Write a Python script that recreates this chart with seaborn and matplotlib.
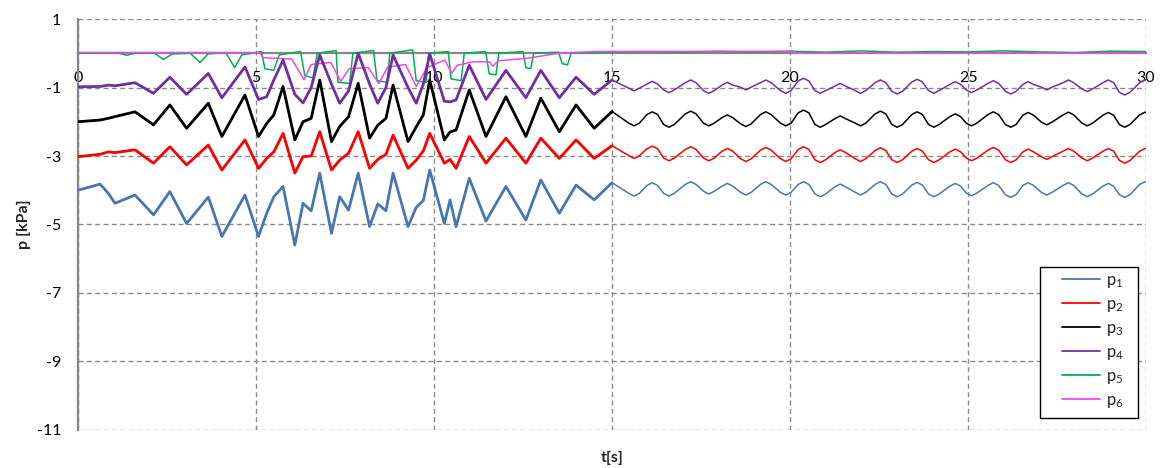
import numpy as np
import pandas as pd
import matplotlib
matplotlib.use('Agg')
import matplotlib.pyplot as plt
from matplotlib.patches import Rectangle
import seaborn as sns

# shared time grid (s) for p1..p4
t_main = [0.0, 0.62, 0.85, 1.04, 1.6, 2.12, 2.58, 3.05, 3.66, 4.04, 4.69, 5.07,
          5.3, 5.5, 5.76, 6.09, 6.32, 6.55, 6.79, 7.12, 7.35, 7.6, 7.87, 8.19,
          8.42, 8.65, 8.85, 9.27, 9.5, 9.7, 9.88, 10.29, 10.45, 10.62, 10.99, 11.46,
          12.02, 12.58, 13.0, 13.52, 13.99, 14.5,
          15.0, 15.47, 15.62, 15.77, 15.98, 16.13, 16.28, 16.45, 16.6, 16.75,
          17.06, 17.21, 17.36, 17.57, 17.72, 17.87, 18.09, 18.24, 18.39, 18.61,
          18.76, 18.91, 19.17, 19.32, 19.47, 19.73, 19.88, 20.03, 20.23, 20.38,
          20.53, 20.70, 20.85, 21.0, 21.26, 21.41, 21.56, 21.83, 21.98, 22.13,
          22.39, 22.54, 22.69, 22.86, 23.01, 23.16, 23.42, 23.57, 23.72, 23.89,
          24.04, 24.19, 24.49, 24.64, 24.79, 24.95, 25.1, 25.25, 25.56, 25.71,
          25.86, 26.05, 26.2, 26.35, 26.54, 26.69, 26.84, 27.06, 27.21, 27.36,
          27.67, 27.82, 27.97, 28.2, 28.35, 28.5, 28.79, 28.94, 29.09, 29.25,
          29.4, 29.55, 29.82, 29.97, 30.0]

p1 = [-4.00, -3.82, -4.09, -4.38, -4.14, -4.72, -4.04, -4.97, -4.20, -5.35, -4.14, -5.35,
      -4.67, -4.19, -3.89, -5.60, -4.38, -4.60, -3.50, -5.26, -4.19, -4.58, -3.50, -5.06,
      -4.40, -4.60, -3.50, -5.06, -4.50, -4.30, -3.41, -4.97, -4.28, -5.06, -3.65, -4.90,
      -3.89, -4.87, -3.70, -4.67, -3.85, -4.28,
      -3.78, -4.09, -4.17, -4.09, -3.86, -3.78, -3.86, -4.09, -4.17, -4.09,
      -3.83, -3.75, -3.83, -4.03, -4.11, -4.03, -3.88, -3.80, -3.88, -4.06,
      -4.14, -4.06, -3.83, -3.75, -3.83, -4.06, -4.14, -4.06, -3.83, -3.75,
      -3.83, -4.11, -4.19, -4.11, -3.90, -3.82, -3.90, -4.06, -4.14, -4.06,
      -3.83, -3.75, -3.83, -4.11, -4.19, -4.11, -3.85, -3.77, -3.85, -4.11,
      -4.19, -4.11, -3.88, -3.80, -3.88, -4.08, -4.16, -4.08, -3.86, -3.78,
      -3.86, -4.13, -4.21, -4.13, -3.86, -3.78, -3.86, -4.06, -4.14, -4.06,
      -3.86, -3.78, -3.86, -4.11, -4.19, -4.11, -3.88, -3.80, -3.88, -4.13,
      -4.21, -4.13, -3.83, -3.75, -3.76]

p2 = [-3.02, -2.95, -2.88, -2.90, -2.82, -3.21, -2.73, -3.26, -2.68, -3.41, -2.53, -3.36,
      -3.07, -2.88, -2.34, -3.50, -3.02, -3.00, -2.29, -3.41, -3.12, -2.92, -2.29, -3.36,
      -3.10, -2.95, -2.39, -3.36, -3.12, -2.85, -2.34, -3.21, -3.10, -3.36, -2.43, -3.21,
      -2.48, -3.21, -2.48, -3.07, -2.53, -3.07,
      -2.70, -2.99, -3.07, -2.99, -2.79, -2.71, -2.79, -3.06, -3.14, -3.06,
      -2.81, -2.73, -2.81, -3.06, -3.14, -3.06, -2.86, -2.78, -2.86, -3.08,
      -3.16, -3.08, -2.83, -2.75, -2.83, -3.08, -3.16, -3.08, -2.81, -2.73,
      -2.81, -3.11, -3.19, -3.11, -2.90, -2.82, -2.90, -3.08, -3.16, -3.08,
      -2.84, -2.76, -2.84, -3.11, -3.19, -3.11, -2.86, -2.78, -2.86, -3.11,
      -3.19, -3.11, -2.88, -2.80, -2.88, -3.06, -3.14, -3.06, -2.83, -2.75,
      -2.83, -3.11, -3.19, -3.11, -2.88, -2.80, -2.88, -3.02, -3.10, -3.02,
      -2.86, -2.78, -2.86, -3.06, -3.14, -3.06, -2.86, -2.78, -2.86, -3.13,
      -3.21, -3.13, -2.86, -2.78, -2.79]

p3 = [-2.00, -1.95, -1.90, -1.85, -1.71, -2.09, -1.51, -2.19, -1.46, -2.43, -1.22, -2.43,
      -2.05, -1.80, -0.97, -2.53, -2.00, -1.90, -0.78, -2.58, -2.14, -1.85, -0.88, -2.48,
      -2.10, -1.90, -0.93, -2.58, -2.15, -1.80, -0.78, -2.53, -2.30, -2.24, -1.07, -2.43,
      -1.27, -2.43, -1.31, -2.29, -1.51, -2.19,
      -1.70, -2.04, -2.12, -2.04, -1.79, -1.71, -1.79, -2.08, -2.16, -2.08,
      -1.77, -1.69, -1.77, -2.04, -2.12, -2.04, -1.88, -1.80, -1.88, -2.06,
      -2.14, -2.06, -1.79, -1.71, -1.79, -2.04, -2.12, -2.04, -1.74, -1.66,
      -1.74, -2.08, -2.16, -2.08, -1.91, -1.83, -1.91, -2.04, -2.12, -2.04,
      -1.77, -1.69, -1.77, -2.08, -2.16, -2.08, -1.79, -1.71, -1.79, -2.08,
      -2.16, -2.08, -1.85, -1.77, -1.85, -2.04, -2.12, -2.04, -1.79, -1.71,
      -1.79, -2.08, -2.16, -2.08, -1.81, -1.73, -1.81, -2.01, -2.09, -2.01,
      -1.80, -1.72, -1.80, -2.04, -2.12, -2.04, -1.81, -1.73, -1.81, -2.08,
      -2.16, -2.08, -1.80, -1.72, -1.73]

p4 = [-0.98, -0.97, -0.93, -0.95, -0.86, -1.17, -0.70, -1.20, -0.59, -1.30, -0.40, -1.35,
      -1.27, -0.78, -0.20, -1.20, -1.45, -1.00, -0.05, -0.90, -1.46, -1.10, 0.00, -0.90,
      -1.46, -1.00, -0.05, -1.00, -1.46, -0.90, -0.02, -1.40, -1.42, -1.36, -0.35, -1.35,
      -0.50, -1.30, -0.50, -1.30, -0.70, -1.20,
      -0.78, -1.02, -1.10, -1.02, -0.90, -0.82, -0.90, -1.07, -1.15, -1.07,
      -0.86, -0.78, -0.86, -1.09, -1.17, -1.09, -0.93, -0.85, -0.93, -0.99,
      -1.07, -0.99, -0.86, -0.78, -0.86, -1.09, -1.17, -1.09, -0.81, -0.73,
      -0.81, -1.09, -1.17, -1.09, -0.96, -0.88, -0.96, -1.09, -1.17, -1.09,
      -0.86, -0.78, -0.86, -1.11, -1.19, -1.11, -0.84, -0.76, -0.84, -1.09,
      -1.17, -1.09, -0.91, -0.83, -0.91, -1.07, -1.15, -1.07, -0.88, -0.80,
      -0.88, -1.11, -1.19, -1.11, -0.91, -0.83, -0.91, -0.99, -1.07, -0.99,
      -0.86, -0.78, -0.86, -1.04, -1.12, -1.04, -0.86, -0.78, -0.86, -1.14,
      -1.22, -1.14, -0.86, -0.78, -0.79]

t_p5 = [0.0, 1.15, 1.37, 1.6, 2.15, 2.4, 2.65, 3.15, 3.43, 3.65, 4.15, 4.4, 4.6,
        5.15, 5.25, 5.5, 5.65, 6.25, 6.37, 6.6, 6.72, 7.25, 7.3, 7.63, 7.72,
        8.3, 8.4, 8.68, 8.76, 9.4, 9.5, 9.78, 9.85, 10.4, 10.48, 10.76, 10.85,
        11.45, 11.55, 11.74, 11.82, 12.5, 12.58, 12.72, 12.8, 13.5, 13.6, 13.75, 13.85,
        15.0, 16.0, 17.0, 18.0, 19.0, 20.0, 21.0, 22.0, 23.0, 24.0, 25.0, 26.0,
        27.0, 28.0, 29.0, 30.0]
p5 = [0.0, 0.0, -0.06, 0.0, 0.0, -0.18, -0.02, 0.0, -0.27, -0.02, 0.02, -0.42, -0.05,
      0.05, -0.45, -0.5, -0.05, 0.05, -0.65, -0.72, 0.0, 0.08, -0.85, -0.88, 0.0,
      0.08, -0.8, -0.85, 0.0, 0.1, -0.8, -0.85, 0.0, 0.05, -0.75, -0.8, 0.0,
      0.05, -0.6, -0.63, 0.0, 0.05, -0.42, -0.45, 0.0, 0.03, -0.3, -0.34, 0.0,
      0.03, 0.05, 0.03, 0.06, 0.03, 0.06, 0.03, 0.07, 0.03, 0.05, 0.04, 0.07,
      0.04, 0.02, 0.06, 0.05]

t_p6 = [0.0, 5.1, 5.2, 6.0, 6.35, 6.55, 7.1, 7.38, 7.62, 8.15, 8.45, 8.7, 9.2, 9.5,
        9.8, 10.3, 10.5, 10.65, 11.1, 11.55, 11.65, 11.8, 12.6, 13.5, 14.5, 20.1, 20.2, 30.0]
p6 = [0.02, 0.02, -0.13, -0.17, -0.77, -0.33, -0.27, -0.82, -0.45, -0.42, -0.88, -0.40,
      -0.33, -0.97, -0.42, -0.20, -0.58, -0.35, -0.25, -0.25, -0.38, -0.22, -0.15, 0.0,
      0.05, 0.06, 0.0, 0.0]

names = ['p₁', 'p₂', 'p₃', 'p₄', 'p₅', 'p₆']
colors = ['#4A76B0', '#FF0000', '#000000', '#7030A0', '#00B050', '#F045F0']
palette = dict(zip(names, colors))

frames = []
for name, vals in zip(names[:4], [p1, p2, p3, p4]):
    frames.append(pd.DataFrame({'t': t_main, 'p': vals, 'series': name}))
frames.append(pd.DataFrame({'t': t_p5, 'p': p5, 'series': names[4]}))
frames.append(pd.DataFrame({'t': t_p6, 'p': p6, 'series': names[5]}))
df = pd.concat(frames, ignore_index=True)

# the first 15 s of p1..p4 carry fine high-frequency ripple -> drawn as a heavier stroke
noisy = df[(df['t'] <= 15.0) & df['series'].isin(names[:4])]

sns.set_style('white')
plt.rcParams['font.family'] = ['Lato', 'DejaVu Sans']
plt.rcParams['axes.unicode_minus'] = False

fig = plt.figure(figsize=(11.61, 4.68), dpi=100)
ax = fig.add_axes([0.0672, 0.0812, 0.9199, 0.8782])

sns.lineplot(data=df, x='t', y='p', hue='series', hue_order=names,
             palette=palette, estimator=None, sort=False,
             linewidth=1.1, ax=ax)
sns.lineplot(data=noisy, x='t', y='p', hue='series', hue_order=names[:4],
             palette=palette, estimator=None, sort=False,
             linewidth=2.0, ax=ax, legend=False)

ax.set_xlim(0, 30)
ax.set_ylim(-11, 1)
ax.set_xticks(np.arange(0, 31, 5))
ax.set_yticks(np.arange(-11, 2, 2))

ax.set_axisbelow(True)
ax.grid(True, color='#8a8a8a', linestyle=(0, (3.6, 2.4)), linewidth=1.0)

for side in ['top', 'right']:
    ax.spines[side].set_visible(False)
ax.spines['bottom'].set_position(('data', 0))
for side in ['bottom', 'left']:
    ax.spines[side].set_color('#868686')
    ax.spines[side].set_linewidth(1.6)
    ax.spines[side].set_zorder(1.5)

ax.tick_params(axis='x', length=0, pad=13, labelsize=11.5, colors='#000000')
ax.tick_params(axis='y', direction='out', length=4, width=1.2, color='#868686',
               pad=8, labelsize=11.5, labelcolor='#000000')

ax.set_xlabel('t[s]', fontsize=11.5, fontweight='bold')
ax.set_ylabel('p [kPa]', fontsize=11.5, fontweight='bold')
ax.xaxis.set_label_coords(0.5, -0.05)
ax.yaxis.set_label_coords(-0.044, 0.5)

# legend: framed box drawn separately so the inner spacing matches
handles, labels = ax.get_legend_handles_labels()
shown = [r'$\mathregular{p_{%s}}$' % str(i + 1) for i in range(len(labels))]
box = Rectangle((0.9007, 0.0292), 0.0918, 0.3674, transform=ax.transAxes,
                facecolor='white', edgecolor='black', linewidth=1.0, zorder=9)
ax.add_patch(box)
leg = ax.legend(handles, shown, loc='upper left', bbox_to_anchor=(0.9213, 0.385),
                borderaxespad=0, borderpad=0, frameon=False, handlelength=2.3,
                handletextpad=0.35, labelspacing=0.36, fontsize=12)
for line in leg.get_lines():
    line.set_linewidth(1.3)
leg.set_zorder(10)

fig.savefig('out.png', dpi=100)
